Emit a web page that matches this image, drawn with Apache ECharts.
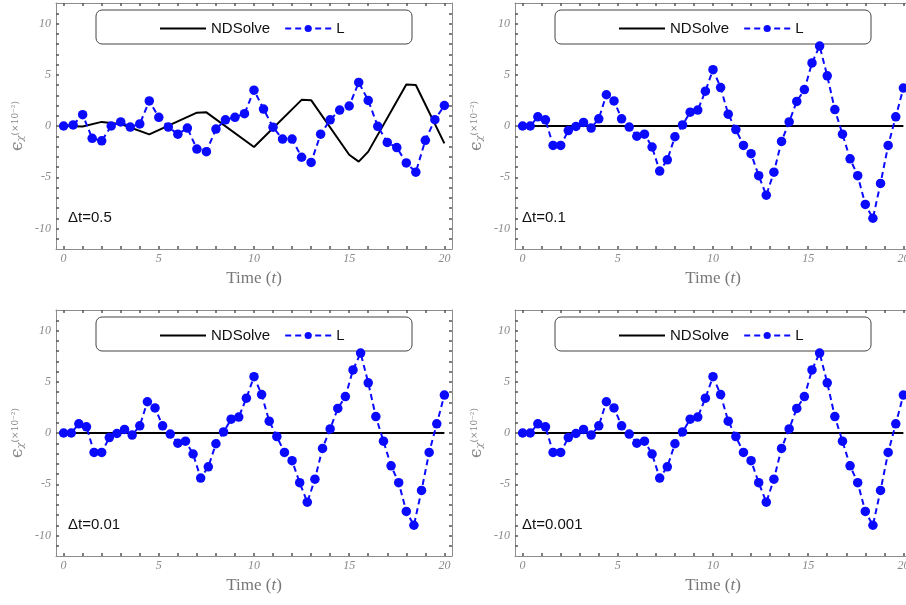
<!DOCTYPE html>
<html>
<head>
<meta charset="utf-8">
<script src="https://cdn.jsdelivr.net/npm/echarts@6/dist/echarts.min.js"></script>
<style>
  html, body { margin: 0; padding: 0; background: #fff; }
  #main { width: 906px; height: 605px; }
</style>
</head>
<body>
<div id="main"></div>
<script>
// time steps of the L series (dt = 0.5 panel)
var tHalf = [0, 0.5, 1, 1.5, 2, 2.5, 3, 3.5, 4, 4.5, 5, 5.5, 6, 6.5, 7, 7.5, 8, 8.5, 9, 9.5,
    10, 10.5, 11, 11.5, 12, 12.5, 13, 13.5, 14, 14.5, 15, 15.5, 16, 16.5, 17, 17.5, 18, 18.5, 19, 19.5, 20];
var lHalf = [0, 0.1, 1.1, -1.2, -1.45, 0, 0.4, -0.1, 0.2, 2.45, 0.85, -0.1, -0.8, -0.2, -2.25, -2.5, -0.3, 0.6, 0.85, 1.2,
    3.5, 1.65, -0.12, -1.27, -1.27, -3.05, -3.55, -0.8, 0.6, 1.55, 1.95, 4.25, 2.5, -0.03, -1.6, -2.1, -3.6, -4.5, -1.4, 0.62, 2.0];

// NDSolve curve, dt = 0.5 panel (corner points)
var ndTimes = [0, 1, 2, 3, 4.5, 7, 7.5, 10, 12.5, 13, 15, 15.5, 16, 18, 18.5, 20];
var ndHalf = [0, -0.05, 0.4, 0.2, -0.82, 1.3, 1.33, -2.05, 2.55, 2.52, -2.8, -3.48, -2.5, 4.05, 4.0, -1.7];

// time steps of the L series (dt = 0.1, 0.01, 0.001 panels)
var tFine = [0, 0.4, 0.8, 1.2, 1.6, 2, 2.4, 2.8, 3.2, 3.6, 4, 4.4, 4.8, 5.2, 5.6, 6, 6.4, 6.8, 7.2, 7.6,
    8, 8.4, 8.8, 9.2, 9.6, 10, 10.4, 10.8, 11.2, 11.6, 12, 12.4, 12.8, 13.2, 13.6, 14, 14.4, 14.8, 15.2, 15.6,
    16, 16.4, 16.8, 17.2, 17.6, 18, 18.4, 18.8, 19.2, 19.6, 20];
var lFine = [0, 0, 0.9, 0.6, -1.9, -1.9, -0.45, -0.05, 0.35, -0.2, 0.7, 3.05, 2.45, 0.7, -0.1, -1.0, -0.8, -2.05, -4.4, -3.3,
    -1.05, 0.1, 1.35, 1.55, 3.4, 5.5, 3.75, 1.15, -0.35, -1.9, -2.7, -4.85, -6.75, -4.5, -1.5, 0.4, 2.4, 3.55, 6.15, 7.8,
    4.9, 1.6, -0.8, -3.2, -4.85, -7.65, -9.0, -5.6, -1.9, 0.9, 3.7];

var ndFlatTimes = [0, 20];
var ndFlat = [0, 0];

var xTicks = [0, 1, 2, 3, 4, 5, 6, 7, 8, 9, 10, 11, 12, 13, 14, 15, 16, 17, 18, 19, 20];
var xLabels = [0, 5, 10, 15, 20];
var yTicks = [-11, -10, -9, -8, -7, -6, -5, -4, -3, -2, -1, 0, 1, 2, 3, 4, 5, 6, 7, 8, 9, 10, 11];
var yLabels = [-10, -5, 0, 5, 10];
var panelLabels = ['Δt=0.5', 'Δt=0.1', 'Δt=0.01', 'Δt=0.001'];

function pairs(xs, ys) {
    return xs.map(function (x, i) { return [x, ys[i]]; });
}

var panels = [
    { left: 56, top: 3, nd: pairs(ndTimes, ndHalf), l: pairs(tHalf, lHalf) },
    { left: 515, top: 3, nd: pairs(ndFlatTimes, ndFlat), l: pairs(tFine, lFine) },
    { left: 56, top: 310, nd: pairs(ndFlatTimes, ndFlat), l: pairs(tFine, lFine) },
    { left: 515, top: 310, nd: pairs(ndFlatTimes, ndFlat), l: pairs(tFine, lFine) }
];

var frameColor = '#8c8c8c';
var tickColor = '#555';
var labelStyle = { color: '#888', fontFamily: 'Liberation Serif', fontStyle: 'italic', fontSize: 12 };

var grid = [], xAxis = [], yAxis = [], series = [], legend = [], graphic = [];

function frameLine() {
    return { onZero: false, lineStyle: { color: frameColor, width: 1 } };
}

panels.forEach(function (p, i) {
    // right-hand panels run past the page edge, like the original
    grid.push({ left: p.left, top: p.top, width: 396, height: 246, outerBoundsMode: 'none' });

    // bottom axis with labels, top axis ticks only
    xAxis.push({
        type: 'value', gridIndex: i, position: 'bottom', min: -0.4, max: 20.4,
        name: '{n|Time (}{i|t}{n|)}', nameLocation: 'middle', nameGap: 21,
        nameTextStyle: {
            rich: {
                n: { fontFamily: 'Liberation Serif', fontSize: 17, color: '#777' },
                i: { fontFamily: 'Liberation Serif', fontStyle: 'italic', fontSize: 17, color: '#777' }
            }
        },
        axisLine: frameLine(),
        axisTick: { inside: true, length: 3, customValues: xTicks, lineStyle: { color: tickColor, width: 1.5 } },
        axisLabel: Object.assign({ margin: 4, customValues: xLabels }, labelStyle),
        splitLine: { show: false }
    });
    xAxis.push({
        type: 'value', gridIndex: i, position: 'top', min: -0.4, max: 20.4,
        axisLine: frameLine(),
        axisTick: { inside: true, length: 3, customValues: xTicks, lineStyle: { color: tickColor, width: 1.5 } },
        axisLabel: { show: false },
        splitLine: { show: false }
    });

    yAxis.push({
        type: 'value', gridIndex: i, position: 'left', min: -12, max: 12,
        name: '{a|ϵ}{b|χ}{c|(×10⁻²)}', nameLocation: 'middle', nameRotate: 90, nameGap: 30,
        nameTextStyle: {
            rich: {
                a: { fontFamily: 'DejaVu Serif', fontSize: 17, color: '#888' },
                b: { fontFamily: 'DejaVu Serif', fontStyle: 'italic', fontSize: 10, color: '#888', padding: [6, 0, 0, 0] },
                c: { fontFamily: 'DejaVu Serif', fontSize: 9, color: '#888', padding: [0, 0, 4, 0] }
            }
        },
        axisLine: frameLine(),
        axisTick: { inside: true, length: 3, customValues: yTicks, lineStyle: { color: tickColor, width: 1.5 } },
        axisLabel: Object.assign({ margin: 5, customValues: yLabels }, labelStyle),
        splitLine: { show: false }
    });
    yAxis.push({
        type: 'value', gridIndex: i, position: 'right', min: -12, max: 12,
        axisLine: frameLine(),
        axisTick: { inside: true, length: 3, customValues: yTicks, lineStyle: { color: tickColor, width: 1.5 } },
        axisLabel: { show: false },
        splitLine: { show: false }
    });

    series.push({
        name: 'NDSolve', type: 'line', xAxisIndex: 2 * i, yAxisIndex: 2 * i,
        data: p.nd, symbol: 'none', color: '#000',
        lineStyle: { color: '#000', width: 2 }, z: 2
    });
    series.push({
        name: 'L', type: 'line', xAxisIndex: 2 * i, yAxisIndex: 2 * i,
        data: p.l, symbol: 'circle', symbolSize: 9.5, color: '#0a0aff',
        itemStyle: { color: '#0a0aff' },
        lineStyle: { color: '#0a0aff', width: 2, type: [6, 4] }, z: 3
    });

    legend.push({
        data: [{ name: 'NDSolve', itemStyle: { opacity: 0 } }, 'L'],
        left: p.left + 103, top: p.top + 18, padding: 0,
        itemWidth: 46, itemHeight: 9, itemGap: 14,
        textStyle: { fontFamily: 'Liberation Sans', fontSize: 15, color: '#111' },
        z: 5
    });

    // rounded box behind the legend
    graphic.push({
        type: 'rect', z: 1,
        shape: { x: p.left + 40, y: p.top + 7, width: 316, height: 34, r: 6 },
        style: { fill: '#fff', stroke: '#444', lineWidth: 1 }
    });
    graphic.push({
        type: 'text', z: 5, x: p.left + (i % 2 === 0 ? 12 : 7), y: p.top + 207,
        style: { text: panelLabels[i], font: '15px "Liberation Sans"', fill: '#111' }
    });
});

var myChart = echarts.init(document.getElementById('main'));
myChart.setOption({
    animation: false,
    grid: grid,
    xAxis: xAxis,
    yAxis: yAxis,
    legend: legend,
    graphic: graphic,
    series: series
});
</script>
</body>
</html>
